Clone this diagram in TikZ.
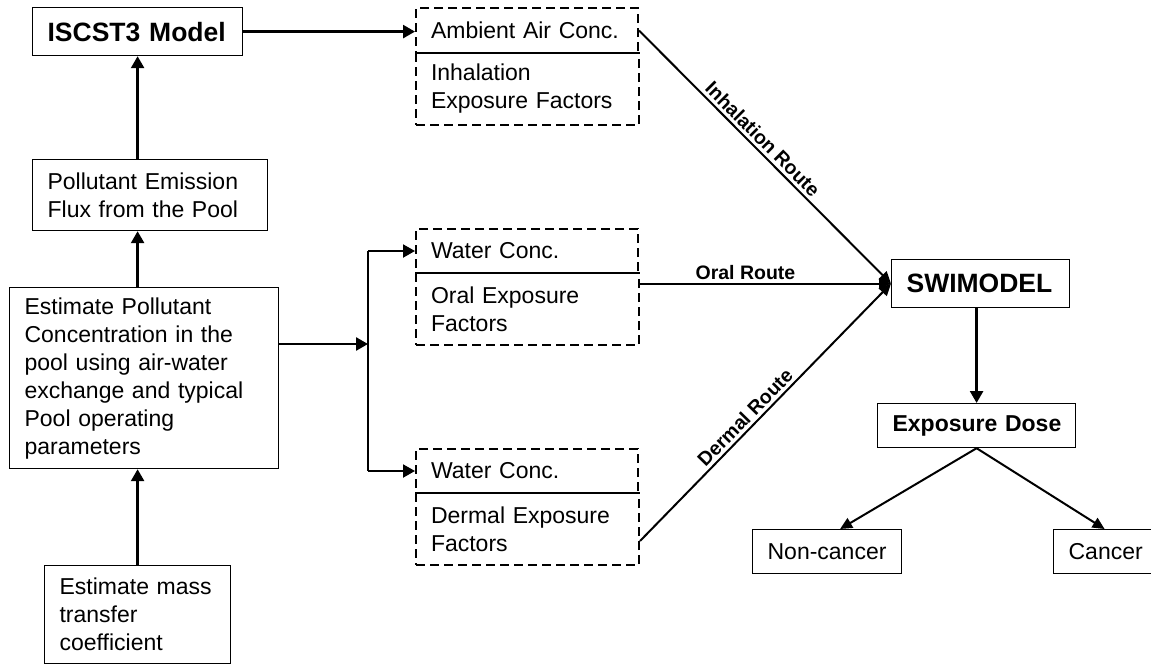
\documentclass[tikz,border=0pt]{standalone}
\usepackage{fontspec}
\setmainfont{Liberation Sans}
\usetikzlibrary{arrows.meta}
\begin{document}
\begin{tikzpicture}[x=1pt,y=-1pt,
  box/.style={draw, line width=1.2pt, anchor=north west, inner xsep=15pt, inner ysep=0pt,
    align=left, font=\fontsize{23}{28}\selectfont},
  dbox/.style={box, dash pattern=on 9pt off 5pt, line width=2pt},
  bigb/.style={font=\fontsize{26.5}{32}\selectfont\bfseries},
  arr/.style={line width=2.6pt, -{Triangle[length=12pt,width=13pt]}},
  rarr/.style={line width=2pt, -{Triangle[length=12pt,width=11pt]}},
  lbl/.style={font=\fontsize{19.5}{22}\selectfont\bfseries, sloped, above, inner sep=3pt}]
\clip (0,0) rectangle (1151,665);
\fill[white] (0,0) rectangle (1151,665);
% left column
\node[box,bigb,text width=180pt,minimum height=48pt] (isc) at (32,7) {\mbox{ISCST3 Model}};
\node[box,text width=205pt,minimum height=71pt] (flux) at (32,159) {Pollutant Emission\\Flux from the Pool};
\node[box,text width=239pt,minimum height=181pt] (conc) at (9,287) {Estimate Pollutant\\Concentration in the\\pool using air-water\\exchange and typical\\Pool operating\\parameters};
\node[box,text width=156pt,minimum height=98pt] (mass) at (44,565) {Estimate mass\\transfer\\coefficient};
% middle column
\node[dbox,text width=192pt,minimum height=45pt] (amb) at (415,7) {\mbox{Ambient Air Conc.}};
\node[dbox,text width=193pt,minimum height=72pt] (inh) at (415,52) {Inhalation\\Exposure Factors};
\node[dbox,text width=192pt,minimum height=44pt] (w1) at (415,228) {Water Conc.};
\node[dbox,text width=193pt,minimum height=72pt] (oralf) at (415,272) {Oral Exposure\\Factors};
\node[dbox,text width=192pt,minimum height=44pt] (w2) at (415,448) {Water Conc.};
\node[dbox,text width=193pt,minimum height=72pt] (dermf) at (415,492) {Dermal Exposure\\Factors};
% right column
\node[box,bigb,text width=148pt,minimum height=48pt] (swi) at (891,259) {\mbox{SWIMODEL}};
\node[box,font=\fontsize{23}{28}\selectfont\bfseries,text width=168pt,minimum height=44pt] (dose) at (877,403) {\mbox{Exposure Dose}};
\node[box,text width=119pt,minimum height=44pt] (nc) at (752,529) {\mbox{Non-cancer}};
\node[box,text width=72pt,minimum height=44pt] (can) at (1053,529) {\mbox{Cancer}};
% connectors
\draw[arr] (mass.north) -- (mass.north |- conc.south);
\draw[arr] (mass.north |- conc.north) -- (mass.north |- flux.south);
\draw[arr] (mass.north |- flux.north) -- (isc.south);
\draw[arr] (isc.east) -- (isc.east -| amb.west);
\coordinate (br) at (368,344);
\draw[arr] (conc.east |- br) -- (br);
\draw[line width=2pt] (br |- w1.west) -- (br |- w2.west);
\draw[arr,line width=2pt] (br |- w1.west) -- (w1.west);
\draw[arr,line width=2pt] (br |- w2.west) -- (w2.west);
\draw[rarr] (amb.east) -- (swi.west) node[lbl,pos=0.46] {Inhalation Route};
\draw[rarr] (oralf.east |- swi.west) -- (swi.west) node[lbl,pos=0.42] {Oral Route};
\draw[rarr] ([yshift=-12pt]dermf.east) -- (swi.west) node[lbl,pos=0.45] {Dermal Route};
\draw[arr] (swi.south -| dose.north) -- (dose.north);
\draw[rarr] (dose.south) -- ([xshift=13pt]nc.north);
\draw[rarr] (dose.south) -- (can.north);
\end{tikzpicture}
\end{document}
